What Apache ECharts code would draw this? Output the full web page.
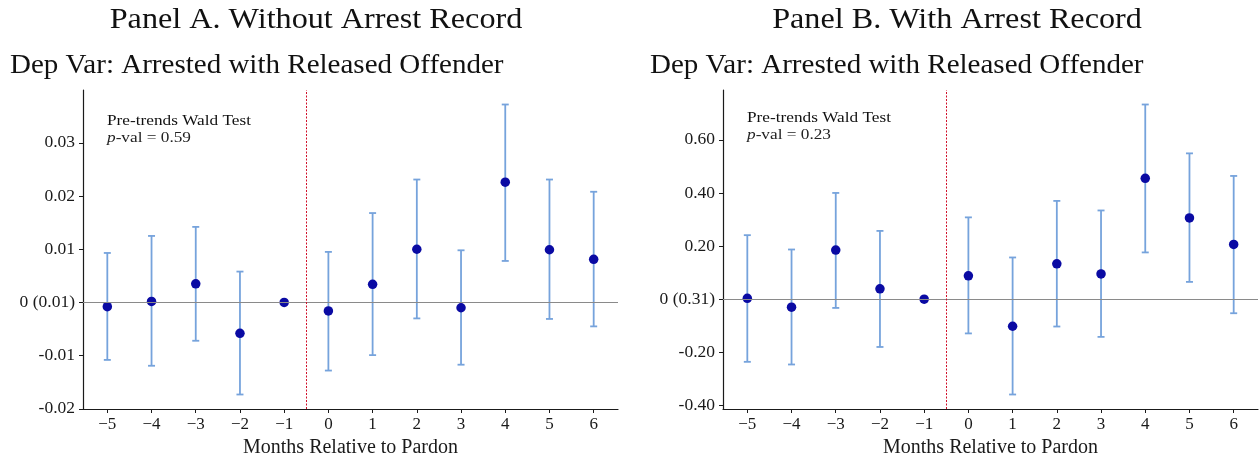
<!DOCTYPE html>
<html>
<head>
<meta charset="utf-8">
<script src="https://cdn.jsdelivr.net/npm/echarts@6/dist/echarts.min.js"></script>
<style>
  html, body { margin: 0; padding: 0; background: #ffffff; }
  #chart { width: 1259px; height: 459px; }
</style>
</head>
<body>
<div id="chart"></div>
<script>
// Event-study estimates by month relative to pardon
const months = [-5, -4, -3, -2, -1, 0, 1, 2, 3, 4, 5, 6];
const xTicks = [-5, -4, -3, -2, -1, 0, 1, 2, 3, 4, 5, 6];

// Panel A: without arrest record
const estA  = [-0.0008, 0.0002, 0.0035, -0.0058, 0, -0.0016, 0.0034, 0.0100, -0.0010, 0.0226, 0.0099, 0.0081];
const lowA  = [-0.0108, -0.0119, -0.0072, -0.0173, null, -0.0128, -0.0099, -0.0030, -0.0117, 0.0078, -0.0031, -0.0045];
const highA = [0.0093, 0.0125, 0.0142, 0.0058, null, 0.0095, 0.0168, 0.0231, 0.0098, 0.0372, 0.0231, 0.0208];
const yTicksA = [-0.02, -0.01, 0, 0.01, 0.02, 0.03];
const zeroLabelA = '0 (0.01)';
const pvalA = '0.59';

// Panel B: with arrest record
const estB  = [0.003, -0.030, 0.185, 0.039, 0, 0.088, -0.102, 0.133, 0.095, 0.455, 0.306, 0.206];
const lowB  = [-0.236, -0.246, -0.033, -0.180, null, -0.129, -0.359, -0.103, -0.142, 0.176, 0.065, -0.053];
const highB = [0.241, 0.187, 0.400, 0.257, null, 0.308, 0.157, 0.370, 0.334, 0.733, 0.549, 0.464];
const yTicksB = [-0.4, -0.2, 0, 0.2, 0.4, 0.6];
const zeroLabelB = '0 (0.31)';
const pvalB = '0.23';

const panelTitles = ['Panel A. Without Arrest Record', 'Panel B. With Arrest Record'];
const depVarTitle = 'Dep Var: Arrested with Released Offender';
const xAxisTitle = 'Months Relative to Pardon';
const testTitle = 'Pre-trends Wald Test';

const SERIF = '"Liberation Serif", "DejaVu Serif", serif';
const INK = '#1a1a1a';
const POINT_COLOR = '#0a0aa3';
const BAR_COLOR = '#76a3dc';

// matplotlib-style 5% padding around the data range
function paddedRange(lows, highs, extra) {
  const vals = lows.concat(highs, extra).filter(v => v !== null);
  const lo = Math.min.apply(null, vals), hi = Math.max.apply(null, vals);
  const pad = 0.05 * (hi - lo);
  return [lo - pad, hi + pad];
}
const xPad = 0.05 * (months[months.length - 1] - months[0]);
const xRange = [months[0] - xPad, months[months.length - 1] + xPad];
const rangeA = paddedRange(lowA, highA, estA);
const rangeB = paddedRange(lowB, highB, estB);

function errorData(lows, highs) {
  const out = [];
  months.forEach((m, i) => { if (lows[i] !== null) out.push([m, lows[i], highs[i]]); });
  return out;
}

function renderErrorBar(params, api) {
  const x = api.value(0);
  const top = api.coord([x, api.value(2)]);
  const bot = api.coord([x, api.value(1)]);
  const cap = 3.5;
  const style = { stroke: BAR_COLOR, lineWidth: 1.8 };
  return {
    type: 'group',
    children: [
      { type: 'line', shape: { x1: top[0], y1: top[1], x2: bot[0], y2: bot[1] }, style: style },
      { type: 'line', shape: { x1: top[0] - cap, y1: top[1], x2: top[0] + cap, y2: top[1] }, style: style },
      { type: 'line', shape: { x1: bot[0] - cap, y1: bot[1], x2: bot[0] + cap, y2: bot[1] }, style: style }
    ]
  };
}

function xAxisFor(gridIndex) {
  return {
    type: 'value', gridIndex: gridIndex,
    min: xRange[0], max: xRange[1],
    splitLine: { show: false },
    axisLine: { show: true, onZero: false, lineStyle: { color: INK, width: 1.2 } },
    axisTick: { show: true, customValues: xTicks, length: 4, lineStyle: { color: INK } },
    axisLabel: {
      customValues: xTicks, margin: 7, fontFamily: SERIF, fontSize: 17, color: INK,
      formatter: v => (v < 0 ? '\u2212' + Math.abs(v) : String(v))
    },
    name: xAxisTitle, nameLocation: 'middle', nameGap: 28,
    nameTextStyle: { fontFamily: SERIF, fontSize: 20, color: INK }
  };
}

function yAxisFor(gridIndex, range, ticks, zeroLabel) {
  return {
    type: 'value', gridIndex: gridIndex,
    min: range[0], max: range[1],
    splitLine: { show: false },
    axisLine: { show: true, onZero: false, lineStyle: { color: INK, width: 1.2 } },
    axisTick: { show: true, customValues: ticks, length: 4, lineStyle: { color: INK } },
    axisLabel: {
      customValues: ticks, margin: 8, fontFamily: SERIF, fontSize: 17.5, color: INK,
      formatter: v => (Math.abs(v) < 1e-9 ? zeroLabel : v.toFixed(2))
    }
  };
}

function refLines() {
  return {
    silent: true, symbol: 'none', label: { show: false },
    data: [
      { yAxis: 0, lineStyle: { color: '#8a8a8a', type: 'solid', width: 1.1 } },
      { xAxis: -0.5, lineStyle: { color: '#d0102a', type: [2, 1.5], width: 1 } }
    ]
  };
}

function panelSeries(idx, est, lows, highs) {
  return [
    {
      type: 'custom', xAxisIndex: idx, yAxisIndex: idx,
      renderItem: renderErrorBar, data: errorData(lows, highs),
      encode: { x: 0, y: [1, 2] }, z: 2, markLine: refLines()
    },
    {
      type: 'scatter', xAxisIndex: idx, yAxisIndex: idx,
      data: months.map((m, i) => [m, est[i]]),
      symbolSize: 9.5, itemStyle: { color: POINT_COLOR, opacity: 1 }, z: 3
    }
  ];
}

// Serif text, widened slightly so it sets like Computer Modern
function textEl(x, y, text, size, align, widen, rich) {
  return {
    type: 'text', x: x, y: y, scaleX: widen, scaleY: 1,
    style: {
      text: text, fill: '#111', fontFamily: SERIF, fontSize: size,
      align: align, verticalAlign: 'middle', rich: rich
    }
  };
}

const pRich = {
  i: { fontFamily: SERIF, fontSize: 15, fontStyle: 'italic', fill: '#222' },
  n: { fontFamily: SERIF, fontSize: 15, fill: '#222' }
};

const chart = echarts.init(document.getElementById('chart'), null, { renderer: 'canvas' });
chart.setOption({
  animation: false,
  backgroundColor: '#ffffff',
  grid: [
    { left: 83, top: 90, width: 535, height: 319, outerBoundsMode: 'none', containLabel: false },
    { left: 723, top: 90, width: 535, height: 319, outerBoundsMode: 'none', containLabel: false }
  ],
  xAxis: [xAxisFor(0), xAxisFor(1)],
  yAxis: [
    yAxisFor(0, rangeA, yTicksA, zeroLabelA),
    yAxisFor(1, rangeB, yTicksB, zeroLabelB)
  ],
  series: panelSeries(0, estA, lowA, highA).concat(panelSeries(1, estB, lowB, highB)),
  graphic: [
    textEl(316, 20, panelTitles[0], 29, 'center', 1.11),
    textEl(957, 20, panelTitles[1], 29, 'center', 1.11),
    textEl(10, 66, depVarTitle, 27, 'left', 1.075),
    textEl(650, 66, depVarTitle, 27, 'left', 1.075),
    textEl(107, 121, testTitle, 15, 'left', 1.15),
    textEl(107, 138, '{i|p}{n|-val = ' + pvalA + '}', 15, 'left', 1.15, pRich),
    textEl(747, 118, testTitle, 15, 'left', 1.15),
    textEl(747, 135, '{i|p}{n|-val = ' + pvalB + '}', 15, 'left', 1.15, pRich)
  ]
});
</script>
</body>
</html>
